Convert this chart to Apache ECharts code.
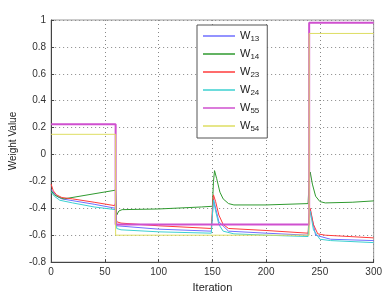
<!DOCTYPE html>
<html>
<head>
<meta charset="utf-8">
<script src="https://cdn.jsdelivr.net/npm/echarts@6/dist/echarts.min.js"></script>
<style>
  html, body { margin: 0; padding: 0; background: #fff; }
  #chart-container { width: 385px; height: 298px; }
</style>
</head>
<body>
<div id="chart-container"></div>
<script>
// legend names
const names = ['W13', 'W14', 'W23', 'W24', 'W55', 'W54'];
const colors = ['#6f6fff', '#2f9a2f', '#ff3b3b', '#3cd0d0', '#cf50cf', '#dede62'];

// [iteration, weight] pairs
const w13 = [[0,-0.26],[5,-0.31],[10,-0.33],[40,-0.37],[60,-0.4],[61,-0.53],[100,-0.555],[149,-0.57],[151,-0.33],[156,-0.5],[165,-0.57],[200,-0.585],[239,-0.6],[241,-0.41],[246,-0.6],[260,-0.63],[300,-0.64]];
const w14 = [[0,-0.27],[3,-0.3],[8,-0.32],[12,-0.33],[60,-0.265],[61,-0.45],[63,-0.42],[66,-0.41],[100,-0.405],[140,-0.39],[150,-0.385],[151,-0.2],[152,-0.12],[154,-0.18],[157,-0.28],[160,-0.33],[165,-0.365],[170,-0.375],[200,-0.375],[239,-0.365],[240,-0.2],[241,-0.13],[243,-0.22],[246,-0.31],[250,-0.35],[255,-0.36],[280,-0.355],[300,-0.345]];
const w23 = [[0,-0.22],[2,-0.27],[5,-0.3],[10,-0.32],[20,-0.33],[40,-0.355],[59,-0.38],[60,-0.36],[60,-0.42],[61,-0.5],[65,-0.51],[100,-0.53],[149,-0.55],[150,-0.4],[151,-0.3],[153,-0.35],[156,-0.45],[160,-0.52],[165,-0.55],[200,-0.565],[239,-0.585],[240,-0.45],[241,-0.4],[244,-0.52],[248,-0.59],[255,-0.6],[300,-0.62]];
const w24 = [[0,-0.28],[3,-0.31],[8,-0.34],[20,-0.36],[40,-0.39],[60,-0.41],[61,-0.55],[65,-0.56],[100,-0.575],[149,-0.585],[150,-0.45],[151,-0.34],[153,-0.42],[156,-0.52],[160,-0.57],[170,-0.59],[200,-0.6],[239,-0.61],[240,-0.5],[241,-0.42],[244,-0.56],[250,-0.63],[260,-0.64],[300,-0.655]];
const w55 = [[0,0.225],[60,0.225],[60,-0.52],[240,-0.52],[240,0.98],[300,0.98]];
const w54 = [[0,0.15],[60,0.15],[60,-0.6],[240,-0.6],[240,0.9],[300,0.9]];
const seriesData = [w13, w14, w23, w24, w55, w54];
const widths = [1, 1, 1, 1, 2, 1];

const xTicks = [0, 50, 100, 150, 200, 250, 300];

const start = () => {
    const chartDom = document.getElementById('chart-container');
    const myChart = echarts.init(chartDom, null, { renderer: 'canvas' });
    const font = 'Liberation Sans';
    const option = {
        animation: false,
        grid: {
            left: 40, right: 8, top: 20, bottom: 31,
            show: true, borderColor: '#999', borderWidth: 1
        },
        legend: {
            data: names,
            orient: 'vertical',
            left: 197, top: 25,
            padding: [4, 8, 5, 6],
            icon: 'rect',
            itemWidth: 32, itemHeight: 1.5, itemGap: 4,
            backgroundColor: '#fff',
            borderColor: '#555', borderWidth: 1,
            formatter: (n) => 'W{s|' + n.slice(1) + '}',
            textStyle: {
                fontFamily: font, fontSize: 11, color: '#222', lineHeight: 13,
                rich: { s: { fontFamily: font, fontSize: 8, color: '#222', lineHeight: 13, padding: [6, 0, 0, 0] } }
            }
        },
        xAxis: {
            type: 'value',
            min: xTicks[0], max: xTicks[xTicks.length - 1], interval: 50,
            name: 'Iteration', nameLocation: 'middle', nameGap: 19,
            nameTextStyle: { fontFamily: font, fontSize: 11, color: '#222' },
            axisLine: { onZero: false, lineStyle: { color: '#444' } },
            axisTick: { inside: true, length: 3, lineStyle: { color: '#444' } },
            axisLabel: { fontFamily: font, fontSize: 10, color: '#333', margin: 5 },
            splitLine: { show: true, lineStyle: { color: '#888', type: [1, 3] } }
        },
        yAxis: {
            type: 'value',
            min: -0.8, max: 1, interval: 0.2,
            name: 'Weight Value', nameLocation: 'middle', nameGap: 27,
            nameTextStyle: { fontFamily: font, fontSize: 10, color: '#222' },
            axisLine: { show: true, onZero: false, lineStyle: { color: '#444' } },
            axisTick: { show: true, inside: true, length: 3, lineStyle: { color: '#444' } },
            axisLabel: {
                fontFamily: font, fontSize: 10, color: '#333', margin: 5,
                formatter: (v) => String(Math.round(v * 10) / 10)
            },
            splitLine: { show: true, lineStyle: { color: '#888', type: [1, 3] } }
        },
        series: names.map((n, i) => ({
            name: n,
            type: 'line',
            data: seriesData[i],
            symbol: 'none',
            color: colors[i],
            lineStyle: { width: widths[i], color: colors[i] }
        }))
    };
    myChart.setOption(option);
};

start();
</script>
</body>
</html>
